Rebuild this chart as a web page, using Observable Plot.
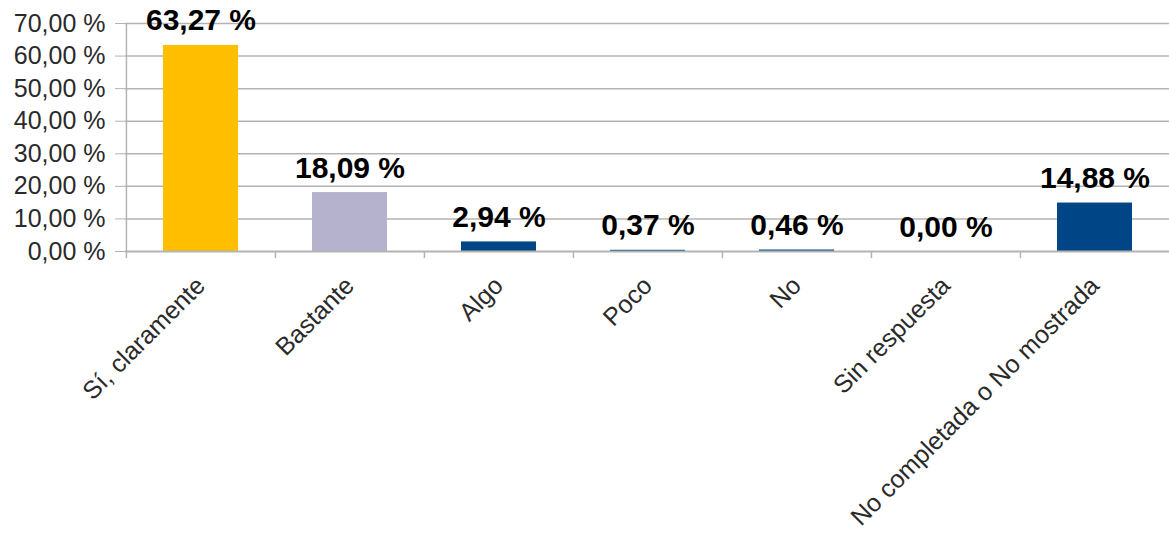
<!DOCTYPE html>
<html>
<head>
<meta charset="utf-8">
<script src="https://cdn.jsdelivr.net/npm/d3@7"></script>
<script src="https://cdn.jsdelivr.net/npm/@observablehq/plot@0.6"></script>
<style>
  html, body { margin: 0; padding: 0; background: #fff; }
  svg { display: block; }
</style>
</head>
<body>
<div id="chart"></div>
<script>
const categories = ["Sí, claramente", "Bastante", "Algo", "Poco", "No", "Sin respuesta", "No completada o No mostrada"];
const values = [63.27, 18.09, 2.94, 0.37, 0.46, 0.00, 14.88];
const colors = ["#ffbf00", "#b4b2cc", "#004586", "#004586", "#004586", "#004586", "#004586"];
const yTicks = [0, 10, 20, 30, 40, 50, 60, 70];

const data = categories.map((c, i) => ({cat: c, value: values[i], color: colors[i]}));

const W = 1169, H = 540;
const mL = 125, mR = 0, mT = 23, mB = 289;
const step = (W - mL - mR) / categories.length;
const fmt = d => d.toFixed(2).replace(".", ",") + " %";

const chart = Plot.plot({
  width: W,
  height: H,
  marginLeft: mL,
  marginRight: mR,
  marginTop: mT,
  marginBottom: mB,
  style: {fontFamily: "Liberation Sans, Arial, sans-serif", background: "#fff"},
  x: {domain: categories, paddingInner: 0.5, paddingOuter: 0.25, align: 0.5},
  y: {domain: [0, 70]},
  marks: [
    Plot.ruleY(yTicks.slice(1), {stroke: "#b3b3b3", strokeWidth: 1.5}),
    Plot.barY(data, {x: "cat", y: "value", fill: "color"}),
    Plot.ruleY([0], {stroke: "#b3b3b3", strokeWidth: 2}),
    Plot.ruleX(categories, {x: d => d, y1: -2.2, y2: 0, stroke: "#b3b3b3", strokeWidth: 1.5, dx: -step / 2}),
    Plot.ruleX([categories[0]], {x: d => d, y1: 0, y2: 70, stroke: "#b3b3b3", strokeWidth: 1.5, dx: -step / 2}),
    Plot.axisY({ticks: yTicks, tickFormat: fmt, tickSize: 10, tickPadding: 10, fontSize: 25, color: "#2a2a2a", stroke: "#b3b3b3", label: null}),
    Plot.axisX({tickSize: 0, tickRotate: -45, tickPadding: 30, fontSize: 25, color: "#2a2a2a", label: null}),
    Plot.text(data, {x: "cat", y: "value", text: d => fmt(d.value), lineAnchor: "bottom", dy: -15, fontSize: 30, fontWeight: "bold", fill: "#000"})
  ]
});
document.getElementById("chart").appendChild(chart);
</script>
</body>
</html>
